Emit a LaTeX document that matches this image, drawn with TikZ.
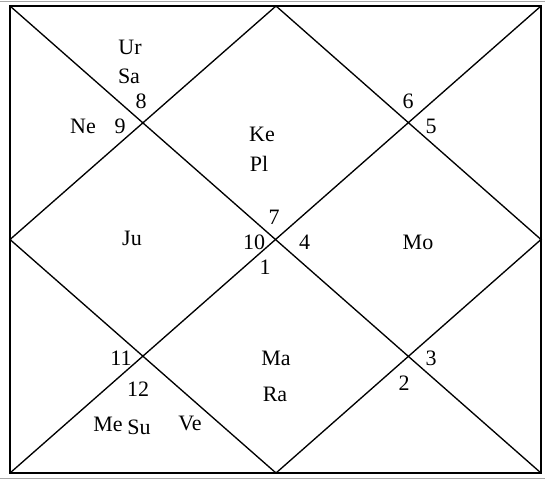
\documentclass[tikz,border=0pt]{standalone}
\usepackage{fontspec}
\setmainfont{Liberation Serif}
\begin{document}
\begin{tikzpicture}[x=0.75pt,y=-0.75pt,font=\fontsize{16.5}{19}\selectfont]
        \useasboundingbox (0,0) rectangle (545,480);
        \begin{scope}
            % page rules
            \draw [gray!70,line width=0.6pt] (0,1.5) -- (545,1.5);
            \draw [gray!70,line width=0.6pt] (0,478.5) -- (545,478.5);
            % corners and midpoints
            \coordinate (tl) at (10,6);
            \coordinate (tr) at (541,6);
            \coordinate (bl) at (10,473);
            \coordinate (br) at (541,473);
            \coordinate (t) at (276,6);
            \coordinate (b) at (276,473);
            \coordinate (l) at (10,239.5);
            \coordinate (r) at (541,239.5);
            \draw [line width=1.2pt] (tl) rectangle (br);
            \draw [line width=1pt] (tl) -- (br);
            \draw [line width=1pt] (tr) -- (bl);
            \draw [line width=1pt] (t) -- (r) -- (b) -- (l) -- cycle;
            % houses
            \node (h1) at (265,267) {1};
            \node (h2) at (404,383) {2};
            \node (h3) at (431,358) {3};
            \node (h4) at (304.5,242) {4};
            \node (h5) at (431,126) {5};
            \node (h6) at (408,101) {6};
            \node (h7) at (274,217) {7};
            \node (h8) at (141,101) {8};
            \node (h9) at (120,126) {9};
            \node (h10) at (254,242) {10};
            \node (h11) at (121,358) {11};
            \node (h12) at (138,389) {12};
            % planets
            \node (ur) at (130,47) {Ur};
            \node (sa) at (129,76) {Sa};
            \node (ne) at (83,126) {Ne};
            \node (ke) at (262,134) {Ke};
            \node (pl) at (259,164) {Pl};
            \node (ju) at (132,238) {Ju};
            \node (mo) at (418,242) {Mo};
            \node (ma) at (276,358) {Ma};
            \node (ra) at (275,394) {Ra};
            \node (me) at (108,424) {Me};
            \node (su) at (139,427) {Su};
            \node (ve) at (190,423) {Ve};
        \end{scope}
    \end{tikzpicture}
\end{document}
